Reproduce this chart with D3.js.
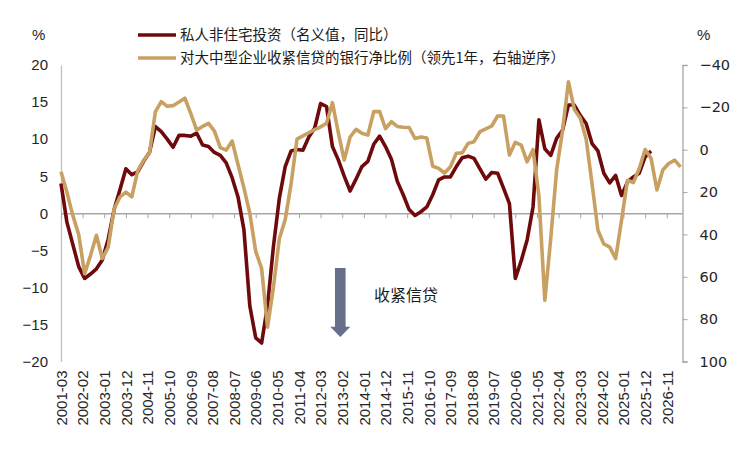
<!DOCTYPE html>
<html>
<head>
<meta charset="utf-8">
<script src="https://cdn.jsdelivr.net/npm/d3@7"></script>
<style>
  body { margin: 0; background: #fff; }
  svg { display: block; }
  .lab { font-family: "Liberation Sans", Arial, sans-serif; font-size: 15px; fill: #262626; }
  .rlab { font-family: "DejaVu Sans", sans-serif; font-size: 14.5px; fill: #262626; }
  .cjk { font-family: "Noto Sans CJK SC", sans-serif; fill: #1a1a1a; }
</style>
</head>
<body>
<div id="chart"></div>
<script>
// quarterly series, first point = 2001-03, one value every 3 months
var firstMonth = "2001-03";
var lastMonth = "2027-07"; // end of the category axis

// 私人非住宅投资（名义值，同比）, %
var investment = [4.0, -1.2, -4.2, -7.2, -8.8, -8.2, -7.5, -6.3, -3.5, 0.5,
  3.2, 6.0, 5.2, 5.6, 7.0, 8.2, 11.7, 11.0, 10.0, 8.9,
  10.5, 10.5, 10.4, 10.8, 9.2, 9.0, 8.2, 7.8, 6.8, 4.8,
  2.2, -2.2, -12.5, -16.8, -17.5, -12.5, -4.5, 2.0, 6.3, 8.4,
  8.6, 8.5, 10.3, 11.5, 14.8, 14.4, 9.0, 7.2, 5.0, 3.0,
  4.6, 6.3, 7.0, 9.3, 10.4, 9.0, 7.3, 4.3, 2.5, 0.5,
  -0.3, 0.2, 0.85, 2.5, 4.5, 4.9, 4.9, 6.3, 7.5, 7.7,
  7.4, 6.0, 4.6, 5.5, 5.4, 3.4, 1.3, -8.8, -6.4, -3.6,
  0.85, 12.6, 8.7, 7.8, 10.1, 11.2, 14.6, 14.6, 13.2, 12.1,
  9.4, 8.4, 5.4, 4.1, 5.1, 2.4, 4.2, 4.9, 5.4, 7.6,
  8.4];

// 对大中型企业收紧信贷的银行净比例（领先1年）, % — right axis, reversed
var tightening = [10.4, 20, 31, 40, 58.5, 50, 40.4, 51.4, 46, 28,
  22.3, 20, 22.3, 10, 5, 1.5, -18, -22.7, -20.5, -20.8,
  -22.5, -24.3, -17, -9.3, -11, -12.4, -8.8, -1, 0.2, -4.1,
  7, 18, 30, 48, 56, 83.8, 65, 42, 33, 16,
  -5, -6.5, -8, -9.5, -10.8, -12.5, -22.2, -8, 4.9, -6,
  -9.6, -7.8, -6.9, -18, -18, -10, -13.2, -11, -10.6, -10.5,
  -5.3, -6.0, -5.5, 7.8, 8.8, 11.0, 8, 1.7, 1.5, -3.0,
  -3.8, -8.5, -9.8, -11.2, -15.9, -15.9, 2.5, -3.5, -2.2, 5.7,
  -0.1, 22, 71.1, 42, 9.6, -9, -32.1, -19, -15, -5,
  16, 38, 44.5, 46, 51.4, 33.3, 14.4, 15.5, 9, -0.1,
  4, 19, 9.6, 6.5, 4.9, 8.1];

var tickLabels = ["2001-03", "2002-02", "2003-01", "2003-12", "2004-11", "2005-10",
  "2006-09", "2007-08", "2008-07", "2009-06", "2010-05", "2011-04", "2012-03",
  "2013-02", "2014-01", "2014-12", "2015-11", "2016-10", "2017-09", "2018-08",
  "2019-07", "2020-06", "2021-05", "2022-04", "2023-03", "2024-02", "2025-01",
  "2025-12", "2026-11"];

var leftTicks = [-20, -15, -10, -5, 0, 5, 10, 15, 20];
var rightTicks = [-40, -20, 0, 20, 40, 60, 80, 100];

var seriesNames = ["私人非住宅投资（名义值，同比）", "对大中型企业收紧信贷的银行净比例（领先1年，右轴逆序）"];
var colors = ["#6e0a0c", "#c8a062"];

function monthIndex(s) {
  var p = s.split("-");
  var f = firstMonth.split("-");
  return (+p[0] - +f[0]) * 12 + (+p[1] - +f[1]);
}

var svgWidth = 744, svgHeight = 450;
var plot = { left: 61, right: 682.5, top: 65, bottom: 361.5 };

var svg = d3.select("#chart").append("svg")
  .attr("width", svgWidth)
  .attr("height", svgHeight);

var x = d3.scaleLinear()
  .domain([0, monthIndex(lastMonth)])
  .range([plot.left, plot.right]);

var yLeft = d3.scaleLinear().domain([-20, 20]).range([plot.bottom, plot.top]);
var yRight = d3.scaleLinear().domain([-40, 100]).range([plot.top, plot.bottom]);

// left axis: line + labels, no ticks
var leftAxis = d3.axisLeft(yLeft).tickValues(leftTicks).tickSize(0).tickPadding(13);
var gL = svg.append("g").attr("transform", `translate(${plot.left},0)`).call(leftAxis);
gL.select(".domain").attr("stroke", "#bfbfbf").attr("stroke-width", 1.3);
gL.selectAll("text").attr("class", "lab").attr("font-family", null).attr("font-size", null);

// right axis, reversed
var rightAxis = d3.axisRight(yRight).tickValues(rightTicks).tickSize(5).tickSizeOuter(5).tickPadding(12);
var gR = svg.append("g").attr("transform", `translate(${plot.right},0)`).call(rightAxis);
gR.select(".domain").attr("stroke", "#a6a6a6").attr("stroke-width", 1.3);
gR.selectAll(".tick line").attr("stroke", "#a6a6a6");
gR.selectAll("text").attr("class", "rlab").attr("font-family", null).attr("font-size", null);

// category axis sits on left zero
var bottomAxis = d3.axisBottom(x)
  .tickValues(tickLabels.map(monthIndex))
  .tickFormat((d, i) => tickLabels[i])
  .tickSize(5).tickSizeOuter(0).tickPadding(8);
var gX = svg.append("g").attr("transform", `translate(0,${yLeft(0)})`).call(bottomAxis);
gX.select(".domain").attr("stroke", "#a6a6a6").attr("stroke-width", 1.3);
gX.selectAll(".tick line").attr("stroke", "#a6a6a6");
gX.selectAll(".tick text")
  .attr("class", "lab")
  .attr("font-family", null).attr("font-size", null)
  .attr("transform", `translate(0,${yLeft(-20) - yLeft(0)}) rotate(-90)`)
  .attr("text-anchor", "end")
  .attr("x", -9).attr("y", 0).attr("dy", "0.35em");

svg.append("text").attr("class", "lab").attr("x", 32).attr("y", 40).text("%");
svg.append("text").attr("class", "lab").attr("x", 697).attr("y", 40).text("%");

// lines
var lineL = d3.line().x((d, i) => x(i * 3)).y(d => yLeft(d));
var lineR = d3.line().x((d, i) => x(i * 3)).y(d => yRight(d));

svg.append("path").datum(investment)
  .attr("d", lineL)
  .attr("fill", "none").attr("stroke", colors[0])
  .attr("stroke-width", 3.6).attr("stroke-linejoin", "round");

svg.append("path").datum(tightening)
  .attr("d", lineR)
  .attr("fill", "none").attr("stroke", colors[1])
  .attr("stroke-width", 3.6).attr("stroke-linejoin", "round");

// legend
var legend = svg.append("g");
seriesNames.forEach(function (name, i) {
  var ly = 35 + i * 23;
  legend.append("line")
    .attr("x1", 138).attr("x2", 176).attr("y1", ly).attr("y2", ly)
    .attr("stroke", colors[i]).attr("stroke-width", 3.6);
  legend.append("text")
    .attr("class", "cjk")
    .attr("x", 180).attr("y", ly).attr("dy", "0.36em")
    .attr("font-size", 14.5)
    .text(name);
});

// annotation arrow
var arrowX = x(142), arrowTop = yLeft(-7.4), headTop = yLeft(-15.3), arrowTip = yLeft(-16.7);
svg.append("path")
  .attr("d", `M${arrowX - 5.3},${arrowTop} L${arrowX + 5.3},${arrowTop} L${arrowX + 5.3},${headTop} L${arrowX + 10},${headTop} L${arrowX},${arrowTip} L${arrowX - 10},${headTop} L${arrowX - 5.3},${headTop} Z`)
  .attr("fill", "#676e89");

svg.append("text")
  .attr("class", "cjk")
  .attr("x", 374).attr("y", 301)
  .attr("font-size", 16)
  .text("收紧信贷");
</script>
</body>
</html>
